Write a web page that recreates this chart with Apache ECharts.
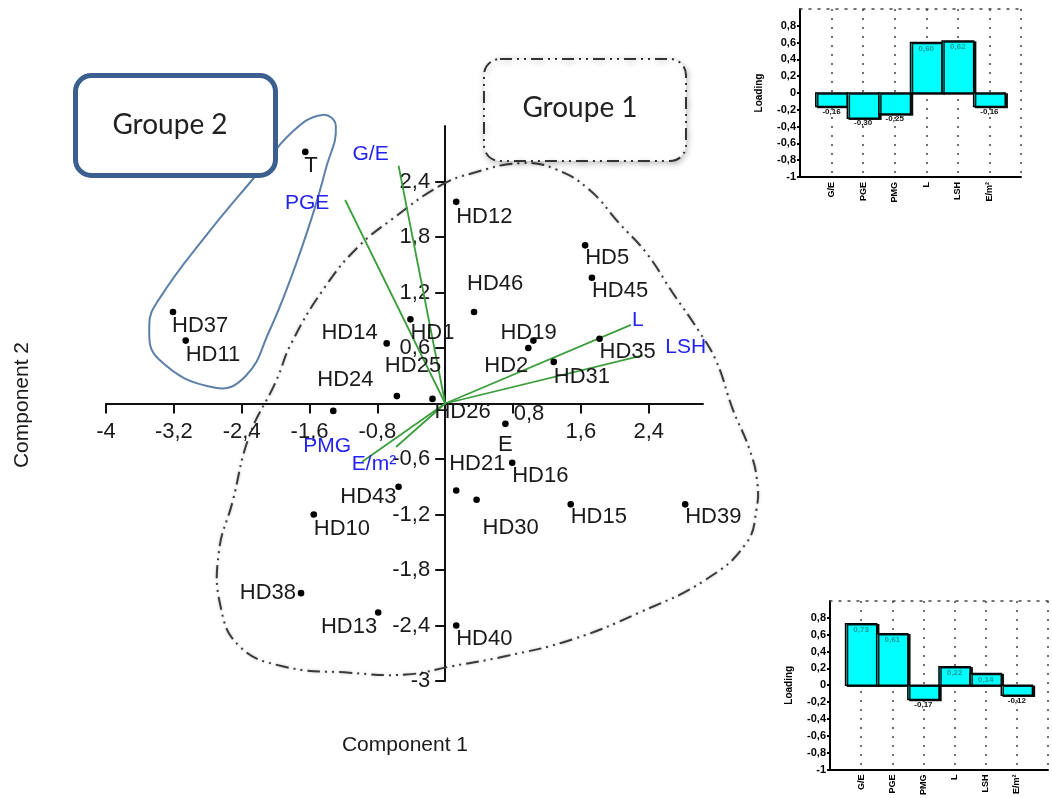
<!DOCTYPE html>
<html><head><meta charset="utf-8">
<script src="https://cdn.jsdelivr.net/npm/echarts@6.0.0/dist/echarts.min.js"></script>
<style>html,body{margin:0;padding:0;background:#fff}#c{width:1052px;height:798px}</style>
</head><body><div id="c"></div>
<script>
// ---------- DATA ----------
const pointNames = ['T','HD37','HD11','HD12','HD5','HD45','HD46','HD1','HD14','HD25','HD24','HD26','HD19','HD2','HD35','HD31','E','HD16','HD21','HD30','HD15','HD39','HD40','HD43','HD10','HD38','HD13'];
const comp1 = [-1.65,-3.21,-3.06,0.13,1.65,1.73,0.34,-0.41,-0.69,-0.57,-1.32,-0.15,1.04,0.98,1.82,1.28,0.71,0.79,0.13,0.37,1.48,2.83,0.13,-0.55,-1.55,-1.70,-0.79];
const comp2 = [2.72,0.99,0.68,2.18,1.71,1.36,0.99,0.91,0.65,0.08,-0.08,0.05,0.68,0.60,0.70,0.45,-0.22,-0.64,-0.94,-1.04,-1.09,-1.09,-2.40,-0.90,-1.20,-2.05,-2.26];

const variables = ['G/E','PGE','PMG','L','LSH','E/m²'];
const vecX = [-0.55,-1.18,-0.98,2.19,2.33,-0.58];
const vecY = [2.57,2.20,-0.63,0.85,0.52,-0.47];

const loadingPC1 = [-0.16,-0.30,-0.25,0.60,0.62,-0.16];
const loadingPC2 = [0.73,0.61,-0.17,0.22,0.14,-0.12];

const xTickValues = [-4,-3.2,-2.4,-1.6,-0.8,0.8,1.6,2.4];
const yTickValues = [-3,-2.4,-1.8,-1.2,-0.6,0.6,1.2,1.8,2.4];
const insetTickValues = [-1,-0.8,-0.6,-0.4,-0.2,0,0.2,0.4,0.6,0.8];

// hand-drawn group outlines (data units)
const group1Outline = [[-0.07,2.35],[0.32,2.49],[0.91,2.60],[1.31,2.53],[1.70,2.31],[2.05,1.95],[2.37,1.63],[2.68,1.20],[3.00,0.77],[3.20,0.45],[3.39,-0.06],[3.59,-0.50],[3.68,-0.85],[3.67,-1.15],[3.55,-1.51],[3.08,-1.90],[2.29,-2.26],[1.50,-2.55],[0.72,-2.73],[0.08,-2.84],[-0.46,-2.93],[-1.13,-2.91],[-1.92,-2.84],[-2.43,-2.62],[-2.65,-2.19],[-2.67,-1.61],[-2.51,-1.07],[-2.31,-0.35],[-2.00,0.23],[-1.81,0.66],[-1.41,1.27],[-1.02,1.70],[-0.63,1.99]];
const group2Outline = [[-1.45,3.12],[-1.29,3.00],[-1.41,2.53],[-1.57,2.02],[-1.81,1.38],[-2.08,0.77],[-2.35,0.30],[-2.71,0.17],[-3.38,0.48],[-3.49,0.84],[-3.38,1.12],[-2.79,1.85],[-2.20,2.50],[-1.81,2.93]];

// ---------- STYLE / LAYOUT ----------
const FONT = '"Liberation Sans", Arial, sans-serif';
const labelPlace = {
  T:[-1,14,'left'], HD37:[-1,14,'left'], HD11:[0,14,'left'], HD12:[0,15,'left'], HD5:[0,13,'left'], HD45:[0,13,'left'],
  HD46:[-7,-28,'left'], HD1:[0,14,'left'], HD14:[-9,-10,'right'], HD25:[-12,-30,'left'], HD24:[-16,-31,'left'],
  HD26:[2,13,'left'], HD19:[-33,-8,'left'], HD2:[0,18,'right'], HD35:[0,13,'left'], HD31:[0,15,'left'],
  E:[0,21,'center'], HD16:[0,13,'left'], HD21:[-7,-27,'left'], HD30:[6,28,'left'], HD15:[0,13,'left'], HD39:[0,13,'left'],
  HD40:[0,13,'left'], HD43:[-2,10,'right'], HD10:[0,14,'left'], HD38:[-5,0,'right'], HD13:[-1,14,'right']
};
const varLabelPlace = {'G/E':[-28,-12],'PGE':[-38,3],'PMG':[-35,-16],'L':[7,-5],'LSH':[43,-8],'E/m²':[-22,17]};
// the "0,8" tick label is displaced in the original figure
const xLabelShift = {'0.8':[16,-18]};

function commaFmt(v){ const r = Math.round(v*10)/10; return String(r).replace('.', ','); }
function insetFmt(v){ if (Math.abs(v) < 1e-6) return '0'; return commaFmt(v); }

const chart = echarts.init(document.getElementById('c'));

function insetX(grid){
  return [{
    gridIndex: grid, type:'value', min:0, max:7, interval:1, position:'bottom',
    axisLine:{show:true, onZero:false, lineStyle:{color:'#000', width:2}},
    axisTick:{show:false},
    axisLabel:{rotate:90, fontSize:9, fontWeight:'bold', color:'#000', margin:5, fontFamily:FONT,
      formatter: v => variables[Math.round(v)-1] || ''},
    splitLine:{show:true, lineStyle:{type:[2,7], color:'#444', width:1.5}}
  },{
    gridIndex: grid, type:'value', min:0, max:7, position:'top',
    axisLine:{show:true, onZero:false, lineStyle:{type:[2,7], color:'#444', width:1.5}},
    axisTick:{show:false}, axisLabel:{show:false}, splitLine:{show:false}
  }];
}
function insetY(grid){
  return {
    gridIndex: grid, type:'value', min:-1, max:1, interval:0.2,
    axisLine:{show:true, onZero:false, lineStyle:{color:'#000', width:2}},
    axisTick:{show:true, length:3, lineStyle:{color:'#000', width:2}, customValues: insetTickValues},
    axisLabel:{fontSize:11, fontWeight:'bold', color:'#000', margin:4, fontFamily:FONT, formatter: insetFmt, customValues: insetTickValues},
    splitLine:{show:false},
    name:'Loading', nameLocation:'middle', nameGap:36,
    nameTextStyle:{fontSize:10, fontWeight:'bold', color:'#000', fontFamily:FONT}
  };
}
function barSeries(grid, values){
  return {
    type:'custom', xAxisIndex: grid*2-1, yAxisIndex: grid, clip:false, z:3,
    data: values.map((v,i)=>[i+1, v]),
    renderItem(params, api){
      const x = api.value(0), v = api.value(1);
      const a = api.coord([x-0.5, 0]), b = api.coord([x+0.5, v]);
      const left = Math.min(a[0], b[0]), top = Math.min(a[1], b[1]);
      const w = Math.abs(b[0]-a[0]), h = Math.abs(b[1]-a[1]);
      const txt = (Math.round(v*100)/100).toFixed(2).replace('.', ',');
      const cx = (a[0]+b[0])/2;
      return {type:'group', children:[
        {type:'rect', shape:{x:left, y:top, width:w, height:h},
          style:{fill:'#00ffff', stroke:'#000', lineWidth:1.5, shadowColor:'rgba(0,0,0,0.9)', shadowOffsetX:2, shadowOffsetY:1, shadowBlur:0}},
        {type:'text', x:cx, y: v < 0 ? top+h+5 : top+6,
          style:{text:txt, fill: v < 0 ? '#111' : '#1a9a9a', fontSize:8, fontWeight:'bold', fontFamily:FONT, align:'center', verticalAlign:'middle'}}
      ]};
    }
  };
}

const option = {
  animation:false,
  backgroundColor:'#fff',
  grid:[
    {left:106, top:126, width:597, height:555},
    {left:800, top:9, width:221, height:168},
    {left:830, top:601, width:218, height:172}
  ],
  xAxis:[
    {gridIndex:0, type:'value', min:-4, max:3.04, interval:0.8,
      axisLine:{show:true, onZero:true, lineStyle:{color:'#111', width:2}},
      axisTick:{show:true, length:10, lineStyle:{color:'#111', width:2}, customValues:xTickValues},
      axisLabel:{show:false},
      splitLine:{show:false}},
    ...insetX(1),
    ...insetX(2)
  ],
  yAxis:[
    {gridIndex:0, type:'value', min:-3, max:3, interval:0.6,
      axisLine:{show:true, onZero:true, lineStyle:{color:'#111', width:2}},
      axisTick:{show:true, length:10, lineStyle:{color:'#111', width:2}, customValues:yTickValues},
      axisLabel:{show:false},
      splitLine:{show:false}},
    insetY(1),
    insetY(2)
  ],
  series:[
    {
      type:'custom', xAxisIndex:0, yAxisIndex:0, clip:false, z:1, silent:true,
      data:[[0,0]],
      renderItem(params, api){
        const p1 = group1Outline.map(d => api.coord(d));
        const p2 = group2Outline.map(d => api.coord(d));
        return {type:'group', children:[
          {type:'polygon', shape:{points:p1, smooth:0.45},
            style:{fill:null, stroke:'#3a3a3a', lineWidth:2, lineDash:[13,5,2,5,2,5], shadowBlur:3, shadowColor:'rgba(0,0,0,0.25)'}},
          {type:'polygon', shape:{points:p2, smooth:0.45},
            style:{fill:null, stroke:'#5d80a8', lineWidth:2}}
        ]};
      }
    },
    // x tick labels placed next to the axis line crossing at zero
    {
      type:'custom', xAxisIndex:0, yAxisIndex:0, clip:false, z:2, silent:true,
      data: xTickValues.map(v => [v, 0]),
      renderItem(params, api){
        const v = api.value(0);
        const p = api.coord([v, 0]);
        const sh = xLabelShift[String(v)] || [0,0];
        return {type:'text', x:p[0]+sh[0], y:p[1]+17+sh[1],
          style:{text:commaFmt(v), fontSize:22, fontFamily:FONT, fill:'#1a1a1a', align:'center', verticalAlign:'top'}};
      }
    },
    // y tick labels
    {
      type:'custom', xAxisIndex:0, yAxisIndex:0, clip:false, z:2, silent:true,
      data: yTickValues.map(v => [0, v]),
      renderItem(params, api){
        const v = api.value(1);
        const p = api.coord([0, v]);
        return {type:'text', x:p[0]-15, y:p[1],
          style:{text:commaFmt(v), fontSize:22, fontFamily:FONT, fill:'#1a1a1a', align:'right', verticalAlign:'middle'}};
      }
    },
    {
      type:'custom', xAxisIndex:0, yAxisIndex:0, clip:false, z:3,
      data: vecX.map((x,i)=>[x, vecY[i], i]),
      renderItem(params, api){
        const o = api.coord([0,0]);
        const e = api.coord([api.value(0), api.value(1)]);
        const name = variables[api.value(2)];
        const off = varLabelPlace[name] || [0,0];
        return {type:'group', children:[
          {type:'line', shape:{x1:o[0], y1:o[1], x2:e[0], y2:e[1]}, style:{stroke:'#3c9e3c', lineWidth:1.8}},
          {type:'text', x:e[0]+off[0], y:e[1]+off[1],
            style:{text:name, fill:'#2323f0', fontSize:21, fontFamily:FONT, align:'center', verticalAlign:'middle'}}
        ]};
      }
    },
    {
      type:'custom', xAxisIndex:0, yAxisIndex:0, clip:false, z:4,
      data: comp1.map((x,i)=>[x, comp2[i], i]),
      renderItem(params, api){
        const p = api.coord([api.value(0), api.value(1)]);
        const name = pointNames[api.value(2)];
        const pl = labelPlace[name] || [0,14,'left'];
        return {type:'group', children:[
          {type:'circle', shape:{cx:p[0], cy:p[1], r:3.3}, style:{fill:'#000'}},
          {type:'text', x:p[0]+pl[0], y:p[1]+pl[1],
            style:{text:name, fill:'#1a1a1a', fontSize:22, fontFamily:FONT, align:pl[2], verticalAlign:'middle'}}
        ]};
      }
    },
    barSeries(1, loadingPC1),
    barSeries(2, loadingPC2)
  ],
  graphic:[
    {type:'rect', left:73, top:73, shape:{width:200, height:100, r:16},
      style:{fill:'#fff', stroke:'#3b5f8e', lineWidth:5}, z:10},
    {type:'text', x:170, y:125, style:{text:'Groupe 2', fontSize:28, fontFamily:'Lato, "Open Sans", sans-serif', fill:'#222', align:'center', verticalAlign:'middle'}, z:11},
    {type:'rect', left:483, top:58, shape:{width:202, height:102, r:16},
      style:{fill:'#fff', stroke:'#333', lineWidth:2, lineDash:[12,5,2,5,2,5], shadowBlur:6, shadowColor:'rgba(0,0,0,0.25)', shadowOffsetX:1, shadowOffsetY:2}, z:10},
    {type:'text', x:580, y:108, style:{text:'Groupe 1', fontSize:28, fontFamily:'Lato, "Open Sans", sans-serif', fill:'#222', align:'center', verticalAlign:'middle'}, z:11},
    {type:'text', x:22, y:405, rotation:Math.PI/2, style:{text:'Component 2', fontSize:21, fontFamily:FONT, fill:'#1a1a1a', align:'center', verticalAlign:'middle'}},
    {type:'text', x:405, y:745, style:{text:'Component 1', fontSize:21, fontFamily:FONT, fill:'#1a1a1a', align:'center', verticalAlign:'middle'}}
  ]
};
chart.setOption(option);
</script>
</body></html>
